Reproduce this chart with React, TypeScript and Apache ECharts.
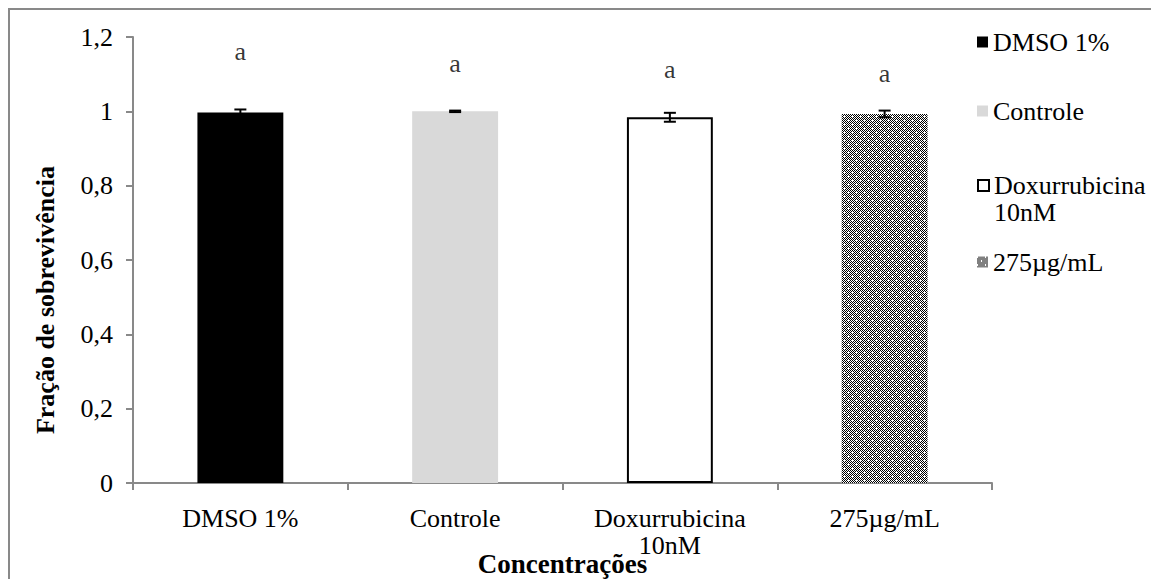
import React, { useEffect, useRef } from "react";
import * as echarts from "echarts";

const categories = ["DMSO 1%", "Controle", "Doxurrubicina\n10nM", "275µg/mL"];
const means = [0.997, 1.0, 0.984, 0.993];
const errors = [0.008, 0.002, 0.012, 0.009];
const letters = ["a", "a", "a", "a"];
const letterHeights = [1.16, 1.128, 1.112, 1.101];
const yTickLabels = ["0", "0,2", "0,4", "0,6", "0,8", "1", "1,2"];
const legendTops = [20, 89, 137, 240];

const FONT = '"Liberation Serif", "Times New Roman", serif';
const AXIS_GRAY = "#898989";

function makePattern(): HTMLCanvasElement {
  const c = document.createElement("canvas");
  c.width = 8;
  c.height = 8;
  const ctx = c.getContext("2d")!;
  ctx.fillStyle = "#ffffff";
  ctx.fillRect(0, 0, 8, 8);
  ctx.fillStyle = "#000000";
  for (let y = 0; y < 8; y++) {
    for (let x = 0; x < 8; x++) {
      if ((x + y) % 2 === 0 && !(x === 4 && y === 4) && !(x === 0 && y === 0)) {
        ctx.fillRect(x, y, 1, 1);
      }
    }
  }
  return c;
}

export default function App() {
  const ref = useRef<HTMLDivElement>(null);
  useEffect(() => {
    if (!ref.current) return;
    const chart = echarts.init(ref.current, null, { renderer: "svg" });
    const pattern = makePattern();
    const barStyles = [
      { color: "#000000" },
      { color: "#d9d9d9" },
      { color: "#ffffff", borderColor: "#000000", borderWidth: 2 },
      { color: { image: pattern, repeat: "repeat" } as any },
    ];
    const barSeries = categories.map((name, i) => ({
      type: "bar",
      name,
      barWidth: "40%",
      barGap: "-100%",
      itemStyle: barStyles[i],
      data: categories.map((_, j) => (j === i ? means[i] : "-")),
      z: 2,
    }));
    const legends = categories.map((name, i) => ({
      data: [name],
      left: 969,
      top: legendTops[i],
      orient: "vertical",
      padding: 0,
      itemWidth: 11,
      itemHeight: 11,
      itemGap: 0,
      icon: "rect",
      selectedMode: false,
      formatter: (n: string) => (n.indexOf("\n") >= 0 ? "\n" + n : n),
      textStyle: {
        fontFamily: FONT,
        fontSize: 26,
        color: "#000",
        lineHeight: i === 2 ? 27 : 28,
      },
    }));
    chart.setOption({
      animation: false,
      backgroundColor: "#ffffff",
      grid: {
        left: 125,
        right: 167,
        top: 29,
        bottom: 96,
        containLabel: false,
        outerBoundsMode: "none",
      },
      legend: legends,
      xAxis: {
        type: "category",
        data: categories,
        axisLine: { lineStyle: { color: AXIS_GRAY, width: 2 } },
        axisTick: { show: true, length: 7, interval: 0, alignWithLabel: false, lineStyle: { color: AXIS_GRAY, width: 2 } },
        axisLabel: { interval: 0, margin: 22, fontFamily: FONT, fontSize: 26, color: "#000", lineHeight: 27 },
        name: "Concentrações",
        nameLocation: "middle",
        nameGap: 67,
        nameMoveOverlap: false,
        nameTextStyle: { fontFamily: FONT, fontSize: 27, fontWeight: "bold", color: "#000" },
      },
      yAxis: {
        type: "value",
        min: 0,
        max: 1.2,
        interval: 0.2,
        axisLine: { show: true, lineStyle: { color: AXIS_GRAY, width: 2 } },
        axisTick: { show: true, length: 7, lineStyle: { color: AXIS_GRAY, width: 2 } },
        splitLine: { show: false },
        axisLabel: {
          margin: 20,
          fontFamily: FONT,
          fontSize: 26,
          color: "#000",
          formatter: (v: number) => yTickLabels[Math.round(v / 0.2)] ?? String(v),
        },
      },
      series: [
        ...barSeries,
        {
          type: "custom",
          name: "err",
          z: 5,
          data: categories.map((_, i) => [i, means[i] - errors[i], means[i] + errors[i]]),
          renderItem: (params: any, api: any) => {
            const x = api.value(0);
            const lo = api.coord([x, api.value(1)]);
            const hi = api.coord([x, api.value(2)]);
            const w = 6;
            const st = { stroke: "#000", lineWidth: 2 };
            return {
              type: "group",
              children: [
                { type: "line", shape: { x1: lo[0], y1: lo[1], x2: hi[0], y2: hi[1] }, style: st },
                { type: "line", shape: { x1: hi[0] - w, y1: hi[1], x2: hi[0] + w, y2: hi[1] }, style: st },
                { type: "line", shape: { x1: lo[0] - w, y1: lo[1], x2: lo[0] + w, y2: lo[1] }, style: st },
              ],
            };
          },
        },
        {
          type: "scatter",
          name: "letters",
          symbolSize: 0,
          itemStyle: { color: "rgba(0,0,0,0)" },
          clip: false,
          z: 6,
          data: categories.map((_, i) => [i, letterHeights[i]]),
          label: {
            show: true,
            position: "inside",
            formatter: (p: any) => letters[p.dataIndex],
            fontFamily: FONT,
            fontSize: 26,
            color: "#000",
          },
        },
      ],
      graphic: [
        {
          type: "rect",
          shape: { x: 1, y: 1, width: 1148, height: 640 },
          style: { fill: "none", stroke: AXIS_GRAY, lineWidth: 2 },
          silent: true,
        },
        {
          type: "text",
          x: 37,
          y: 292,
          rotation: Math.PI / 2,
          style: {
            text: "Fração de sobrevivência",
            font: `bold 26px ${FONT}`,
            align: "center",
            verticalAlign: "middle",
            fill: "#000",
          },
        },
      ],
    });
    return () => chart.dispose();
  }, []);
  return <div ref={ref} style={{ width: 1151, height: 571 }} />;
}
